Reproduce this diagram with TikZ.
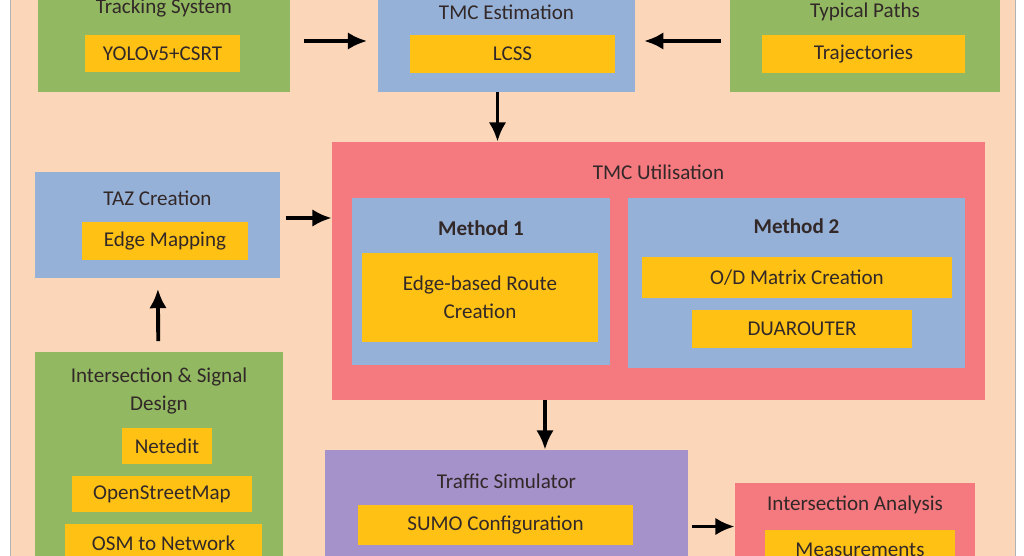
\documentclass[tikz,border=0pt]{standalone}
\usepackage{fontspec}
\setmainfont{Carlito}
\usetikzlibrary{arrows.meta}
\definecolor{bgpeach}{RGB}{251,214,184}
\definecolor{boxgreen}{RGB}{146,185,98}
\definecolor{boxblue}{RGB}{150,177,216}
\definecolor{boxyellow}{RGB}{255,194,20}
\definecolor{boxred}{RGB}{244,122,128}
\definecolor{boxpurple}{RGB}{165,146,202}
\definecolor{txt}{RGB}{50,40,40}
\begin{document}
\begin{tikzpicture}[x=0.02cm,y=-0.02cm,
    box/.style={draw=none, inner sep=0pt, text=txt, font=\fontsize{12}{14}\selectfont},
    gbox/.style={box, fill=boxgreen},
    bbox/.style={box, fill=boxblue},
    rbox/.style={box, fill=boxred},
    pbox/.style={box, fill=boxpurple},
    ybox/.style={box, fill=boxyellow, align=center},
    ttl/.style={text=txt, font=\fontsize{12}{14}\selectfont, align=center, inner sep=0pt},
    arr/.style={-{Latex[length=11pt,width=10pt]}, line width=2.2pt, black}]
\useasboundingbox (0,0) rectangle (1024,555);
\clip (0,0) rectangle (1024,555);
\fill[white] (0,0) rectangle (1024,555);
\draw[fill=bgpeach, draw=gray!60] (10,-10) rectangle (1015,570);
% top row
\node[gbox, minimum width=5.04cm, minimum height=2.04cm] (track) at (164,41) {};
\node[ttl] (tracktl) at (164,8) {Tracking System};
\node[ybox, minimum width=3.1cm, minimum height=0.74cm] (yolo) at (162.5,53.5) {YOLOv5+CSRT};
\node[bbox, minimum width=5.14cm, minimum height=2.04cm] (tmce) at (506.5,41) {};
\node[ttl] (tmcetl) at (506.5,12) {TMC Estimation};
\node[ybox, minimum width=4.1cm, minimum height=0.76cm] (lcss) at (512.5,54) {LCSS};
\node[gbox, minimum width=5.4cm, minimum height=2.04cm] (paths) at (865,41) {};
\node[ttl] (pathstl) at (865,12) {Typical Paths};
\node[ybox, minimum width=4.06cm, minimum height=0.76cm] (traj) at (863.5,54) {Trajectories};
% utilisation
\node[rbox, minimum width=13.06cm, minimum height=5.16cm] (util) at (658.5,271) {};
\node[ttl] (utiltl) at (658.5,172) {TMC Utilisation};
\node[bbox, minimum width=5.16cm, minimum height=3.34cm] (mone) at (481,281.5) {};
\node[ttl] (monetl) at (481,228) {\textbf{Method 1}};
\node[ybox, minimum width=4.72cm, minimum height=1.78cm] (eroute) at (480,297.5) {Edge-based Route\\[2pt]Creation};
\node[bbox, minimum width=6.74cm, minimum height=3.4cm] (mtwo) at (796.5,283) {};
\node[ttl] (mtwotl) at (796.5,226) {\textbf{Method 2}};
\node[ybox, minimum width=6.2cm, minimum height=0.82cm] (odm) at (797,277.5) {O/D Matrix Creation};
\node[ybox, minimum width=4.4cm, minimum height=0.76cm] (duar) at (802,329) {DUAROUTER};
% left column
\node[bbox, minimum width=4.9cm, minimum height=2.12cm] (taz) at (157.5,225) {};
\node[ttl] (taztl) at (157.5,198) {TAZ Creation};
\node[ybox, minimum width=3.32cm, minimum height=0.76cm] (emap) at (165,241) {Edge Mapping};
\node[gbox, minimum width=4.96cm, minimum height=4.36cm] (isd) at (159,461) {};
\node[ttl] (isdtl) at (159,391) {Intersection \& Signal\\[2pt]Design};
\node[ybox, minimum width=1.8cm, minimum height=0.72cm] (netedit) at (167,446) {Netedit};
\node[ybox, minimum width=3.6cm, minimum height=0.72cm] (osm) at (162,494) {OpenStreetMap};
\node[ybox, minimum width=3.94cm, minimum height=0.76cm] (osmnet) at (163.5,543) {OSM to Network};
% bottom row
\node[pbox, minimum width=7.26cm, minimum height=2.4cm] (sim) at (506.5,510) {};
\node[ttl] (simtl) at (506.5,481) {Traffic Simulator};
\node[ybox, minimum width=5.5cm, minimum height=0.8cm] (sumo) at (495.5,525) {SUMO Configuration};
\node[rbox, minimum width=4.8cm, minimum height=1.74cm] (ia) at (855,526.5) {};
\node[ttl] (iatl) at (855,505) {Intersection Analysis};
\node[ybox, minimum width=3.8cm, minimum height=0.8cm] (meas) at (860,550) {Measurements};
% arrows
\draw[arr, shorten <=8, shorten >=6] (track) -- (tmce);
\draw[arr, shorten <=5, shorten >=5] (paths) -- (tmce);
\draw[arr] ([xshift=-0.18cm]tmce.south) -- ([xshift=-0.18cm]tmce.south |- util.north);
\draw[arr, shorten <=3] ([yshift=0.14cm]taz.east) -- ([yshift=0.14cm]taz.east -| util.west);
\draw[arr, shorten <=6, shorten >=6] (isd) -- (taz);
\draw[arr] ([xshift=0.77cm]util.south -| sim.north) -- ([xshift=0.77cm]sim.north);
\draw[arr, shorten <=2] (sim.east |- ia.west) -- (ia.west);
\end{tikzpicture}
\end{document}
